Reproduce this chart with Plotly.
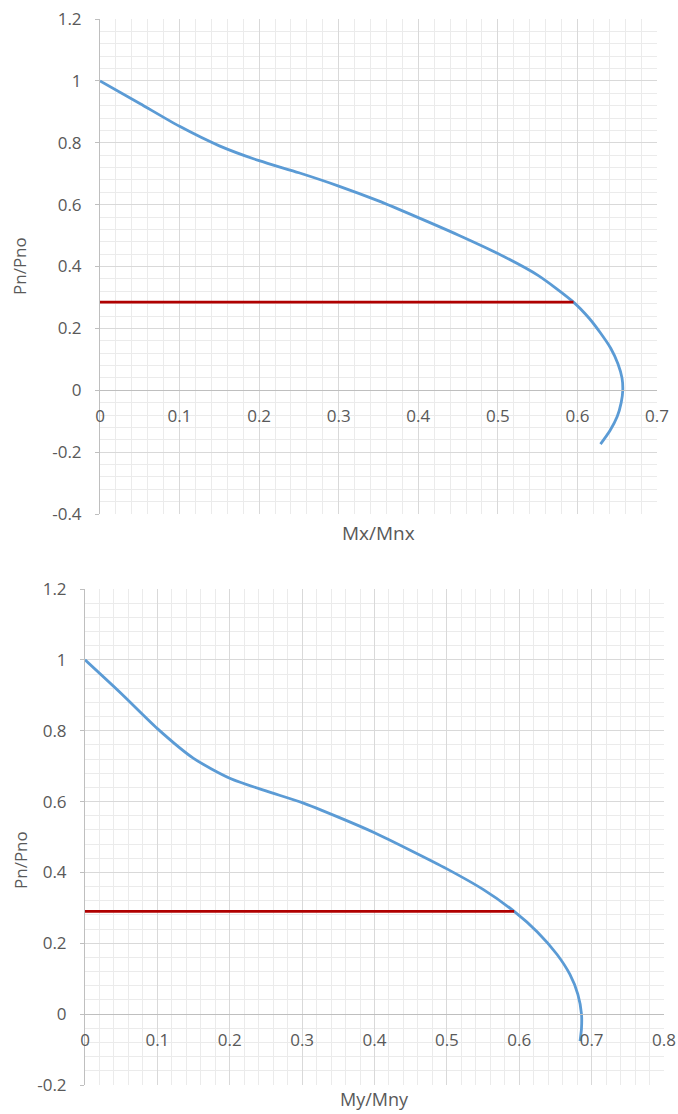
import plotly.graph_objects as go

# ---- data: top chart (Mx/Mnx vs Pn/Pno)
top_mx = [0, 0.05, 0.10, 0.15, 0.20, 0.25, 0.30, 0.35, 0.40, 0.45, 0.50, 0.55,
          0.595, 0.615, 0.629, 0.642, 0.651, 0.656, 0.657, 0.655, 0.650, 0.641, 0.629]
top_pn = [1.0, 0.927, 0.853, 0.790, 0.742, 0.703, 0.660, 0.612, 0.558, 0.502, 0.442, 0.372,
          0.285, 0.232, 0.185, 0.135, 0.085, 0.040, 0.0, -0.040, -0.085, -0.130, -0.174]
top_red_x = [0, 0.595]
top_red_y = [0.285, 0.285]

# ---- data: bottom chart (My/Mny vs Pn/Pno)
bot_my = [0, 0.05, 0.10, 0.15, 0.20, 0.25, 0.30, 0.35, 0.40, 0.45, 0.50, 0.55,
          0.593, 0.625, 0.652, 0.670, 0.681, 0.686, 0.686, 0.684]
bot_pn = [1.0, 0.905, 0.806, 0.722, 0.666, 0.630, 0.597, 0.556, 0.512, 0.462, 0.410, 0.352,
          0.290, 0.232, 0.169, 0.112, 0.056, 0.0, -0.040, -0.076]
bot_red_x = [0, 0.593]
bot_red_y = [0.29, 0.29]

# ---- tick labels
top_xticks = [0, 0.1, 0.2, 0.3, 0.4, 0.5, 0.6, 0.7]
top_xtext = ["0", "0.1", "0.2", "0.3", "0.4", "0.5", "0.6", "0.7"]
top_yticks = [-0.4, -0.2, 0, 0.2, 0.4, 0.6, 0.8, 1.0, 1.2]
top_ytext = ["-0.4", "-0.2", "0", "0.2", "0.4", "0.6", "0.8", "1", "1.2"]
bot_xticks = [0, 0.1, 0.2, 0.3, 0.4, 0.5, 0.6, 0.7, 0.8]
bot_xtext = ["0", "0.1", "0.2", "0.3", "0.4", "0.5", "0.6", "0.7", "0.8"]
bot_yticks = [-0.2, 0, 0.2, 0.4, 0.6, 0.8, 1.0, 1.2]
bot_ytext = ["-0.2", "0", "0.2", "0.4", "0.6", "0.8", "1", "1.2"]

W, H = 678, 1114
BLUE = "#5B9BD5"
RED = "#B00000"
TXT = "#595959"
FONT = "Open Sans"
GRID = "#d9d9d9"
MINOR = "#ebebeb"

# layout in pixels
top_px = dict(x0=100, x1=657, y0=19, y1=514)
bot_px = dict(x0=85, x1=664, y0=589, y1=1085)
top_yrange = [-0.4, 1.2]
bot_yrange = [-0.2, 1.2]


def xdom(p):
    return [p["x0"] / W, p["x1"] / W]


def ydom(p):
    return [1 - p["y1"] / H, 1 - p["y0"] / H]


def zero_pos(p, yr):
    d = ydom(p)
    return d[0] + (0 - yr[0]) / (yr[1] - yr[0]) * (d[1] - d[0])


fig = go.Figure()
fig.add_trace(go.Scatter(x=top_mx, y=top_pn, mode="lines", xaxis="x", yaxis="y",
                         line=dict(color=BLUE, width=2.8, shape="spline", smoothing=0.7),
                         showlegend=False, hoverinfo="skip"))
fig.add_trace(go.Scatter(x=top_red_x, y=top_red_y, mode="lines", xaxis="x", yaxis="y",
                         line=dict(color=RED, width=2.6), showlegend=False, hoverinfo="skip"))
fig.add_trace(go.Scatter(x=bot_my, y=bot_pn, mode="lines", xaxis="x2", yaxis="y2",
                         line=dict(color=BLUE, width=2.8, shape="spline", smoothing=0.7),
                         showlegend=False, hoverinfo="skip"))
fig.add_trace(go.Scatter(x=bot_red_x, y=bot_red_y, mode="lines", xaxis="x2", yaxis="y2",
                         line=dict(color=RED, width=2.6), showlegend=False, hoverinfo="skip"))

common_x = dict(showgrid=True, gridcolor=GRID, gridwidth=1, zeroline=False,
                showline=True, linecolor="#bfbfbf", linewidth=1, ticks="",
                tickfont=dict(family=FONT, size=17, color=TXT),
                minor=dict(dtick=0.02, showgrid=True, gridcolor=MINOR, gridwidth=1),
                ticklabelstandoff=10, automargin=False, fixedrange=True)
common_y = dict(showgrid=True, gridcolor=GRID, gridwidth=1, zeroline=False,
                showline=True, linecolor="#bfbfbf", linewidth=1,
                ticks="outside", ticklen=4, tickcolor="#bfbfbf",
                tickfont=dict(family=FONT, size=17, color=TXT),
                minor=dict(dtick=0.04, showgrid=True, gridcolor=MINOR, gridwidth=1),
                ticklabelstandoff=10, automargin=False, fixedrange=True)

ann_common = dict(xref="paper", yref="paper", showarrow=False,
                  xanchor="center", yanchor="middle")

fig.update_layout(
    width=W, height=H,
    margin=dict(l=0, r=0, t=0, b=0),
    paper_bgcolor="white", plot_bgcolor="white",
    xaxis=dict(common_x, domain=xdom(top_px), range=[0, 0.7],
               tickvals=top_xticks, ticktext=top_xtext,
               anchor="free", position=zero_pos(top_px, top_yrange)),
    yaxis=dict(common_y, domain=ydom(top_px), range=top_yrange,
               tickvals=top_yticks, ticktext=top_ytext, anchor="x"),
    xaxis2=dict(common_x, domain=xdom(bot_px), range=[0, 0.8],
                tickvals=bot_xticks, ticktext=bot_xtext,
                anchor="free", position=zero_pos(bot_px, bot_yrange)),
    yaxis2=dict(common_y, domain=ydom(bot_px), range=bot_yrange,
                tickvals=bot_yticks, ticktext=bot_ytext, anchor="x2"),
    annotations=[
        dict(ann_common, text="Mx/Mnx",
             x=(top_px["x0"] + top_px["x1"]) / 2 / W, y=1 - 533 / H,
             font=dict(family=FONT, size=19, color=TXT)),
        dict(ann_common, text="My/Mny",
             x=(bot_px["x0"] + bot_px["x1"]) / 2 / W, y=1 - 1099 / H,
             font=dict(family=FONT, size=18, color=TXT)),
        dict(ann_common, text="Pn/Pno", textangle=-90,
             x=20 / W, y=1 - 266 / H,
             font=dict(family=FONT, size=17, color=TXT)),
        dict(ann_common, text="Pn/Pno", textangle=-90,
             x=20 / W, y=1 - 860 / H,
             font=dict(family=FONT, size=17, color=TXT)),
    ],
)

fig.write_html("out.html")
